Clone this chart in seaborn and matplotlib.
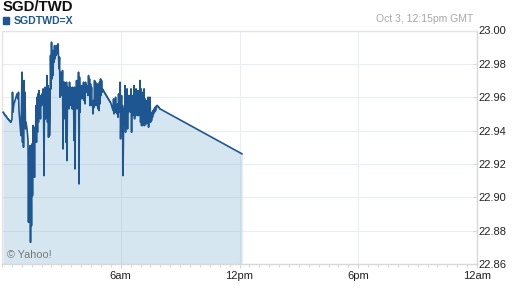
import matplotlib
matplotlib.use("Agg")
import matplotlib.pyplot as plt
import matplotlib.dates as mdates
from matplotlib.patches import Rectangle
import numpy as np
import pandas as pd
import seaborn as sns

# ---------------- data ----------------
title = "SGD/TWD"
symbol = "SGDTWD=X"
stamp = "Oct 3, 12:15pm GMT"
credit = "\u00a9 Yahoo!"

session_start = "2013-10-03 00:03"
sample_seconds = 91
rates = [
    22.951, 22.951, 22.950, 22.950, 22.949, 22.949, 22.949, 22.948, 22.948, 22.947,
    22.947, 22.947, 22.946, 22.946, 22.946, 22.945, 22.945, 22.946, 22.947, 22.963,
    22.951, 22.954, 22.956, 22.957, 22.958, 22.959, 22.960, 22.961, 22.962, 22.960,
    22.959, 22.963, 22.952, 22.948, 22.944, 22.940, 22.937, 22.955, 22.975, 22.933,
    22.969, 22.930, 22.970, 22.948, 22.963, 22.941, 22.945, 22.943, 22.941, 22.938,
    22.934, 22.885, 22.929, 22.887, 22.931, 22.873, 22.919, 22.883, 22.932, 22.901,
    22.943, 22.921, 22.942, 22.912, 22.941, 22.937, 22.955, 22.933, 22.960, 22.939,
    22.962, 22.945, 22.964, 22.953, 22.956, 22.947, 22.961, 22.955, 22.962, 22.957,
    22.965, 22.959, 22.913, 22.961, 22.966, 22.947, 22.962, 22.953, 22.973, 22.945,
    22.967, 22.936, 22.965, 22.937, 22.949, 22.985, 22.965, 22.993, 22.971, 22.985,
    22.973, 22.988, 22.981, 22.991, 22.983, 22.989, 22.985, 22.991, 22.986, 22.989,
    22.992, 22.985, 22.977, 22.984, 22.960, 22.975, 22.963, 22.974, 22.961, 22.976,
    22.929, 22.969, 22.947, 22.969, 22.955, 22.966, 22.933, 22.969, 22.922, 22.966,
    22.956, 22.960, 22.953, 22.969, 22.957, 22.966, 22.955, 22.961, 22.953, 22.966,
    22.953, 22.961, 22.934, 22.966, 22.917, 22.965, 22.954, 22.970, 22.953, 22.966,
    22.955, 22.975, 22.908, 22.972, 22.951, 22.966, 22.960, 22.967, 22.959, 22.964,
    22.960, 22.969, 22.958, 22.967, 22.956, 22.969, 22.963, 22.967, 22.964, 22.966,
    22.961, 22.973, 22.962, 22.971, 22.955, 22.968, 22.958, 22.966, 22.955, 22.957,
    22.950, 22.958, 22.954, 22.970, 22.956, 22.969, 22.955, 22.966, 22.955, 22.968,
    22.953, 22.967, 22.952, 22.969, 22.956, 22.971, 22.961, 22.970, 22.963, 22.965,
    22.964, 22.964, 22.963, 22.963, 22.962, 22.962, 22.961, 22.961, 22.960, 22.960,
    22.959, 22.959, 22.958, 22.958, 22.957, 22.957, 22.956, 22.955, 22.954, 22.953,
    22.952, 22.959, 22.950, 22.956, 22.951, 22.960, 22.951, 22.955, 22.950, 22.956,
    22.948, 22.962, 22.951, 22.953, 22.969, 22.935, 22.951, 22.961, 22.945, 22.955,
    22.913, 22.943, 22.953, 22.943, 22.967, 22.939, 22.963, 22.947, 22.965, 22.941,
    22.961, 22.951, 22.961, 22.952, 22.961, 22.951, 22.965, 22.939, 22.961, 22.949,
    22.961, 22.951, 22.967, 22.947, 22.961, 22.949, 22.965, 22.950, 22.960, 22.949,
    22.964, 22.949, 22.959, 22.950, 22.970, 22.945, 22.965, 22.943, 22.963, 22.943,
    22.955, 22.945, 22.965, 22.943, 22.959, 22.945, 22.953, 22.944, 22.958, 22.946,
    22.960, 22.942, 22.949, 22.947, 22.960, 22.945, 22.949, 22.946, 22.951, 22.948,
    22.952, 22.950, 22.953, 22.951, 22.954, 22.952, 22.954, 22.955, 22.955, 22.955,
    22.954, 22.954, 22.954, 22.953, 22.953,
]
last_time = "2013-10-03 12:08"
last_rate = 22.926

day_start = "2013-10-03 00:00"
day_end = "2013-10-04 00:00"
x_tick_times = ["2013-10-03 06:00", "2013-10-03 12:00", "2013-10-03 18:00", "2013-10-04 00:00"]
x_tick_labels = ["6am", "12pm", "6pm", "12am"]
y_ticks = [22.86, 22.88, 22.90, 22.92, 22.94, 22.96, 22.98, 23.00]
y_tick_labels = ["22.86", "22.88", "22.90", "22.92", "22.94", "22.96", "22.98", "23.00"]

# ---------------- frame ----------------
times = pd.date_range(session_start, periods=len(rates), freq=f"{sample_seconds}s")
df = pd.DataFrame({"time": list(times) + [pd.Timestamp(last_time)],
                   "rate": rates + [last_rate]})

sns.set_theme(style="white")
plt.rcParams["font.family"] = ["Liberation Sans", "DejaVu Sans"]

line_c = "#1d5691"
fill_c = "#d6e6f1"
grid_c = "#e9eef5"
grid_in_fill_c = "#c8dae9"
axis_c = "#d8d8d8"

fig = plt.figure(figsize=(5.12, 2.88), dpi=100)
W, H = 512, 288
ax = fig.add_axes([2 / W, 24 / H, 475 / W, 233.5 / H])

ax.set_xlim(pd.Timestamp(day_start), pd.Timestamp(day_end))
ax.set_ylim(y_ticks[0], y_ticks[-1])

poly = ax.fill_between(df["time"], df["rate"], y_ticks[0], color=fill_c, lw=0, zorder=1)
sns.lineplot(data=df, x="time", y="rate", ax=ax, color=line_c, lw=1.2,
             zorder=3, estimator=None, sort=False)

ax.set_xticks([pd.Timestamp(t) for t in x_tick_times])
ax.set_xticklabels(x_tick_labels)
ax.xaxis.set_minor_locator(mdates.MinuteLocator(byminute=[0, 30]))
ax.yaxis.tick_right()
ax.set_yticks(y_ticks)
ax.set_yticklabels(y_tick_labels)

ax.grid(True, which="major", color=grid_c, lw=0.8)
ax.set_axisbelow(True)

# darker grid segments where the grid lies under the shaded area
clip_path = poly.get_paths()[0]
for t in x_tick_times:
    ln = ax.axvline(pd.Timestamp(t), color=grid_in_fill_c, lw=0.8, zorder=2)
    ln.set_clip_path(clip_path, ax.transData)
for v in y_ticks:
    ln = ax.axhline(v, color=grid_in_fill_c, lw=0.8, zorder=2)
    ln.set_clip_path(clip_path, ax.transData)

ax.tick_params(axis="x", which="major", direction="out", length=3, width=0.8,
               color=axis_c, labelsize=8, labelcolor="#222222", pad=2, bottom=True)
ax.tick_params(axis="x", which="minor", direction="out", length=2, width=0.8,
               color=axis_c, bottom=True)
ax.tick_params(axis="y", which="major", direction="in", length=3, width=0.8,
               color=axis_c, labelsize=8, labelcolor="#222222", pad=1,
               right=True, left=False)

for side in ["top", "left", "right", "bottom"]:
    ax.spines[side].set_color("#e4e4e4")
    ax.spines[side].set_linewidth(1.0)
ax.spines["bottom"].set_color(axis_c)
ax.spines["right"].set_color(axis_c)

ax.set_xlabel("")
ax.set_ylabel("")

ax.text(0.011, 0.04, credit, transform=ax.transAxes, fontsize=7.8,
        color="#777777", va="center", ha="left", zorder=5)

fig.text(3 / W, 1 - 7 / H, title, fontsize=10.8, fontweight="bold",
         color="#111111", va="center", ha="left")
fig.patches.append(Rectangle((2.5 / W, 1 - 24 / H), 6 / W, 7 / H,
                             transform=fig.transFigure, color=line_c))
fig.text(14 / W, 1 - 20.5 / H, symbol, fontsize=7.6, fontweight="bold",
         color=line_c, va="center", ha="left")
fig.text(473 / W, 1 - 19 / H, stamp, fontsize=7.5, color="#a8a8a8",
         va="center", ha="right")

fig.savefig("out.png", dpi=100)
